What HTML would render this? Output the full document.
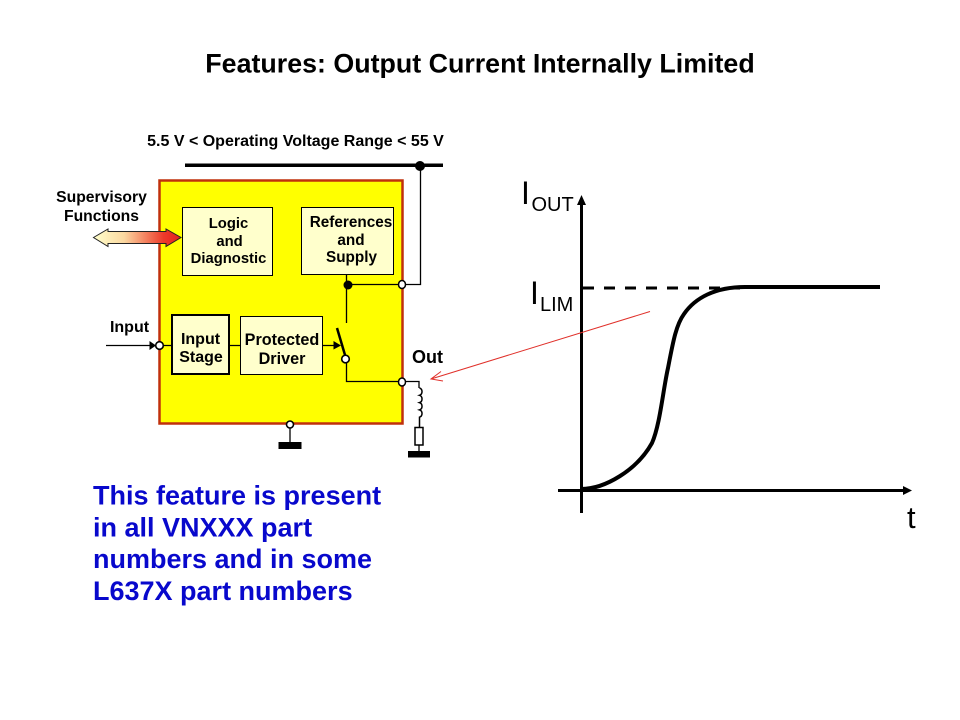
<!DOCTYPE html>
<html>
<head>
<meta charset="utf-8">
<style>
html,body{margin:0;padding:0;background:#fff;width:960px;height:720px;overflow:hidden}
svg{display:block}
text{font-family:"Liberation Sans",Arial,sans-serif;fill:#000}
.b{font-weight:bold}
.s{font-size:15px;font-weight:bold;text-anchor:middle}
.blue{font-size:27px;font-weight:bold;fill:#0808cc}
.big{font-size:32px}
.sub{font-size:20px}
</style>
</head>
<body>
<svg width="960" height="720" viewBox="0 0 960 720" xmlns="http://www.w3.org/2000/svg">
<defs>
<linearGradient id="g" x1="0" y1="0" x2="1" y2="0">
<stop offset="0" stop-color="#ffffcc"/>
<stop offset="0.35" stop-color="#fbd8a0"/>
<stop offset="0.8" stop-color="#ee3a2a"/>
<stop offset="1" stop-color="#e02020"/>
</linearGradient>
</defs>
<text x="480" y="72.500" class="b" font-size="26.800" text-anchor="middle">Features: Output Current Internally Limited</text>
<text x="295.500" y="146" class="s" style="font-size:16px">5.5 V &lt; Operating Voltage Range &lt; 55 V</text>

<rect x="159.500" y="180.500" width="243" height="243" fill="#ffff00" stroke="#c0300c" stroke-width="2.500"/>

<!-- supply -->
<rect x="185" y="163.500" width="258" height="3.500" fill="#000"/>
<circle cx="420" cy="166" r="5" fill="#000"/>
<path d="M420.500 166V284.500H347.500M346.500 275V323" fill="none" stroke="#000" stroke-width="1.300"/>
<circle cx="348" cy="285" r="4.500" fill="#000"/>
<ellipse cx="402" cy="284.500" rx="3.500" ry="4" fill="#fff" stroke="#000" stroke-width="1.500"/>

<!-- boxes -->
<rect x="182.500" y="207.500" width="90" height="68" fill="#ffffcc" stroke="#000" stroke-width="1"/>
<rect x="301.500" y="207.500" width="92" height="67" fill="#ffffcc" stroke="#000" stroke-width="1"/>
<rect x="172" y="315" width="57" height="59" fill="#ffffcc" stroke="#000" stroke-width="2"/>
<rect x="240.500" y="316.500" width="82" height="58" fill="#ffffcc" stroke="#000" stroke-width="1"/>

<text x="228.500" y="228" class="s" style="font-size:14.800px">Logic</text>
<text x="229.500" y="246" class="s" style="font-size:14.800px">and</text>
<text x="228.500" y="263" class="s" style="font-size:14.800px">Diagnostic</text>
<text x="351" y="227" class="s" style="font-size:15.300px">References</text>
<text x="351" y="245" class="s" style="font-size:15.300px">and</text>
<text x="351.500" y="262" class="s" style="font-size:15.300px">Supply</text>
<text x="200.500" y="344" class="s" style="font-size:16px">Input</text>
<text x="201" y="362" class="s" style="font-size:16px">Stage</text>
<text x="282" y="345" class="s" style="font-size:16.200px">Protected</text>
<text x="282" y="364" class="s" style="font-size:16.200px">Driver</text>

<!-- supervisory -->
<text x="101.500" y="202" class="s" style="font-size:15.700px">Supervisory</text>
<text x="101.500" y="221" class="s" style="font-size:15.700px">Functions</text>
<path d="M93.500 237.500L108 229V231.500H166V229L181 237.500L166 246.500V243.500H108V246.500Z" fill="url(#g)" stroke="#222" stroke-width="1"/>

<!-- input -->
<text x="129.500" y="332" class="s" style="font-size:16px">Input</text>
<path d="M106 345.500H155M163 345.500H172M229 345.500H240M322 345.500H338" fill="none" stroke="#000" stroke-width="1.200"/>
<path d="M149.500 341L156 345.500L149.500 350Z" fill="#000"/>
<circle cx="159.500" cy="345.500" r="3.800" fill="#fff" stroke="#000" stroke-width="1.600"/>
<path d="M333.500 341L341 345.500L333.500 349.500Z" fill="#000"/>

<!-- switch -->
<path d="M337 328L345 355" stroke="#000" stroke-width="2.500" fill="none"/>
<circle cx="345.500" cy="359" r="3.800" fill="#fff" stroke="#000" stroke-width="1.600"/>
<path d="M346.500 363V381.500H398M406 381.500H419V388" fill="none" stroke="#000" stroke-width="1.300"/>
<ellipse cx="402" cy="382" rx="3.500" ry="4" fill="#fff" stroke="#000" stroke-width="1.500"/>
<text x="427.500" y="363" class="s" style="font-size:18px">Out</text>
<path d="M419.500 388a3.500 3.800 0 0 1 0 7.300a3.500 3.800 0 0 1 0 7.300a3.500 3.800 0 0 1 0 7.300a3.500 3.800 0 0 1 0 7.300V427" fill="none" stroke="#000" stroke-width="1.500"/>
<rect x="415" y="427.500" width="8" height="17.500" fill="#fff" stroke="#000" stroke-width="1.500"/>
<path d="M419 445V452" stroke="#000" stroke-width="1.300"/>
<rect x="408" y="451" width="22" height="6.500" fill="#000"/>

<!-- ground -->
<path d="M290 428V443" stroke="#000" stroke-width="1.300"/>
<circle cx="290" cy="424.500" r="3.500" fill="#fff" stroke="#000" stroke-width="1.600"/>
<rect x="278.500" y="442" width="23" height="7" fill="#000"/>

<!-- blue -->
<text x="93" y="504.500" class="blue">This feature is present</text>
<text x="93" y="536.500" class="blue">in all VNXXX part</text>
<text x="93" y="568" class="blue">numbers and in some</text>
<text x="93" y="600" class="blue">L637X part numbers</text>

<!-- chart -->
<path d="M581.500 513V204" stroke="#000" stroke-width="3"/>
<path d="M577 205L581.500 195L586 205Z" fill="#000"/>
<path d="M558 490.500H904" stroke="#000" stroke-width="3"/>
<path d="M903 486L912 490.500L903 495Z" fill="#000"/>
<path d="M583 288H740" stroke="#000" stroke-width="3" stroke-dasharray="11 10" fill="none"/>
<path d="M581 489C605 489 637 470 652 443C660 425 663 390 668 368C673 342 676 325 684 314C695 298 715 287 745 287H880" fill="none" stroke="#000" stroke-width="4"/>
<path d="M650 311.500L431 379M441 371.500L431 379L443 381" fill="none" stroke="#e0302a" stroke-width="1"/>

<text x="521" y="204" class="big">I</text>
<text x="531.500" y="211" class="sub">OUT</text>
<text x="530" y="304" class="big">I</text>
<text x="540" y="311" class="sub">LIM</text>
<text x="907" y="528" font-size="31">t</text>
</svg>
</body>
</html>
